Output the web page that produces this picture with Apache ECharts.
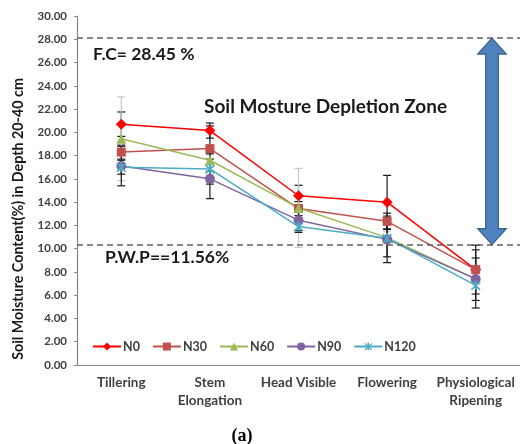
<!DOCTYPE html>
<html>
<head>
<meta charset="utf-8">
<script src="https://cdn.jsdelivr.net/npm/echarts@6/dist/echarts.min.js"></script>
<style>
html, body { margin: 0; padding: 0; background: #fff; }
#chart { width: 520px; height: 444px; }
</style>
</head>
<body>
<div id="chart"></div>
<script>
// growth stages on the x axis
var stages = ['Tillering', 'Stem\nElongation', 'Head Visible', 'Flowering', 'Physiological\nRipening']
// soil moisture (%) per nitrogen treatment
var n0 = [20.7, 20.15, 14.55, 14.0, 8.2]
var n30 = [18.3, 18.6, 13.45, 12.35, 8.2]
var n60 = [19.45, 17.6, 13.5, 10.95, 7.4]
var n90 = [17.1, 16.0, 12.45, 10.8, 7.4]
var n120 = [17.0, 16.85, 11.9, 10.9, 6.85]
// error bar half widths
var n0Err = [1.05, 0.65, 0.9, 2.3, 2.1]
var n30Err = [0.6, 1.95, 0.6, 0.7, 1.0]
var n60Err = [3.6, 0.6, 3.4, 0.5, 0.5]
var n90Err = [1.7, 1.7, 0.9, 2.0, 2.5]
var n120Err = [0.6, 1.3, 0.5, 1.6, 1.3]
// reference levels as drawn
var fcLevel = 28.1
var pwpLevel = 10.35
var yTicks = { min: 0, max: 30, step: 2 }

var font = 'Lato, "Open Sans", sans-serif'
var starPath = 'path://M4.2,0h1.6v10h-1.6zM0.6,1.7l1.1,-1.1l7.7,8.7l-1.1,1.1zM8.3,0.6l1.1,1.1l-7.7,8.7l-1.1,-1.1z'

var treatments = [
  { name: 'N0', data: n0, err: n0Err, color: '#ff0000', symbol: 'diamond', size: 11, errColor: '#1a1a1a' },
  { name: 'N30', data: n30, err: n30Err, color: '#c0504d', symbol: 'rect', size: 9, errColor: '#1a1a1a' },
  { name: 'N60', data: n60, err: n60Err, color: '#9bbb59', symbol: 'triangle', size: 10, errColor: '#c8c8c8' },
  { name: 'N90', data: n90, err: n90Err, color: '#8064a2', symbol: 'circle', size: 10, errColor: '#1a1a1a' },
  { name: 'N120', data: n120, err: n120Err, color: '#4bacc6', symbol: starPath, size: 10, errColor: '#1a1a1a' }
]

function errRender (params, api) {
  var x = api.value(0)
  var lo = api.coord([x, api.value(1)])
  var hi = api.coord([x, api.value(2)])
  var style = { stroke: api.visual('color'), lineWidth: 1.2 }
  var cap = 4
  return {
    type: 'group',
    children: [
      { type: 'line', shape: { x1: lo[0], y1: lo[1], x2: hi[0], y2: hi[1] }, style: style },
      { type: 'line', shape: { x1: lo[0] - cap, y1: lo[1], x2: lo[0] + cap, y2: lo[1] }, style: style },
      { type: 'line', shape: { x1: hi[0] - cap, y1: hi[1], x2: hi[0] + cap, y2: hi[1] }, style: style }
    ]
  }
}

var series = []
treatments.forEach(function (t) {
  series.push({
    name: 'err' + t.name,
    type: 'custom',
    renderItem: errRender,
    itemStyle: { color: t.errColor },
    encode: { x: 0, y: [1, 2] },
    data: t.data.map(function (v, i) { return [i, v - t.err[i], v + t.err[i]] }),
    z: 1,
    silent: true
  })
})
treatments.forEach(function (t, k) {
  var s = {
    name: t.name,
    type: 'line',
    data: t.data,
    symbol: t.symbol,
    symbolSize: t.size,
    lineStyle: { color: t.color, width: 1.5 },
    itemStyle: { color: t.color },
    z: 3
  }
  if (k === 0) {
    s.markLine = {
      silent: true,
      symbol: 'none',
      label: { show: false },
      lineStyle: { color: '#606060', type: [6, 4], width: 1.5 },
      data: [{ yAxis: fcLevel }, { yAxis: pwpLevel }]
    }
  }
  series.push(s)
})

var chart = echarts.init(document.getElementById('chart'))
chart.setOption({
  animation: false,
  textStyle: { fontFamily: font },
  grid: { left: 77, top: 16, bottom: 79, width: 445 },
  legend: {
    data: treatments.map(function (t) { return t.name }),
    left: 87,
    top: 335,
    itemWidth: 28,
    itemHeight: 10,
    itemGap: 12,
    textStyle: { fontFamily: font, fontSize: 12.5, fontWeight: 'bold', color: '#404040', padding: [0, 0, 0, -3] }
  },
  xAxis: {
    type: 'category',
    data: stages,
    axisLine: { lineStyle: { color: '#868686', width: 1.2 } },
    axisTick: { show: false },
    axisLabel: { interval: 0, margin: 9, fontSize: 13.5, fontWeight: 'bold', color: '#404040', lineHeight: 18 }
  },
  yAxis: {
    type: 'value',
    min: yTicks.min,
    max: yTicks.max,
    interval: yTicks.step,
    splitLine: { show: false },
    axisLine: { show: true, lineStyle: { color: '#868686', width: 1.2 } },
    axisTick: { show: true, length: 3, lineStyle: { color: '#868686' } },
    axisLabel: {
      margin: 10,
      fontSize: 11.5,
      fontWeight: 'bold',
      color: '#404040',
      formatter: function (v) { return v.toFixed(2) }
    }
  },
  series: series
})

// annotations, placed from the axis scale
var yTop = chart.convertToPixel({ yAxisIndex: 0 }, fcLevel)
var yBot = chart.convertToPixel({ yAxisIndex: 0 }, pwpLevel)
var ax = 492
var shaft = 6.3
var head = 14.3
var headH = 16
chart.setOption({
  graphic: [
    {
      type: 'polygon',
      shape: {
        points: [
          [ax, yTop], [ax + head, yTop + headH], [ax + shaft, yTop + headH],
          [ax + shaft, yBot - headH], [ax + head, yBot - headH], [ax, yBot],
          [ax - head, yBot - headH], [ax - shaft, yBot - headH],
          [ax - shaft, yTop + headH], [ax - head, yTop + headH]
        ]
      },
      style: { fill: '#4f81bd', stroke: '#385d8a', lineWidth: 1.2 },
      z: 10
    },
    {
      type: 'text', x: 93, y: yTop + 16,
      style: { text: 'F.C= 28.45 %', font: 'bold 17.5px ' + font, fill: '#1a1a1a', verticalAlign: 'middle' }
    },
    {
      type: 'text', x: 204, y: 106.5,
      style: { text: 'Soil Mosture Depletion Zone', font: 'bold 19px ' + font, fill: '#1a1a1a', verticalAlign: 'middle' }
    },
    {
      type: 'text', x: 105, y: yBot + 13,
      style: { text: 'P.W.P==11.56%', font: 'bold 17.5px ' + font, fill: '#1a1a1a', verticalAlign: 'middle' }
    },
    {
      type: 'text', x: 18.5, y: 219, rotation: Math.PI / 2,
      style: { text: 'Soil Moisture Content(%) in Depth 20-40 cm', font: 'bold 14.3px ' + font, fill: '#1a1a1a', align: 'center', verticalAlign: 'middle' }
    },
    {
      type: 'text', x: 242, y: 436,
      style: { text: '(a)', font: 'bold 18px "Liberation Serif", "DejaVu Serif", serif', fill: '#000', align: 'center', verticalAlign: 'middle' }
    }
  ]
})
</script>
</body>
</html>
